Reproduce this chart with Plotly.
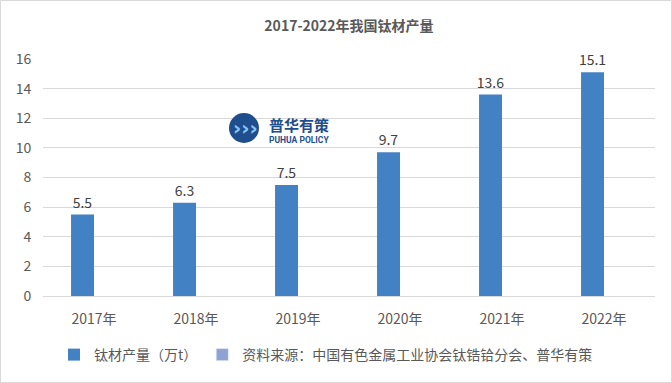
import plotly.graph_objects as go

categories = ["2017年", "2018年", "2019年", "2020年", "2021年", "2022年"]
output_values = [5.5, 6.3, 7.5, 9.7, 13.6, 15.1]
source_values = [None, None, None, None, None, None]
y_ticks = [0, 2, 4, 6, 8, 10, 12, 14, 16]

FONT = "Noto Sans CJK SC, Microsoft YaHei, sans-serif"

W, H = 672, 383
L, R, T, B = 43, 17, 59, 87
pw, ph = W - L - R, H - T - B

def px_x(x):
    return (x - L) / pw

def px_y(y):
    return (H - B - y) / ph

fig = go.Figure()
fig.add_trace(go.Bar(
    x=categories, y=output_values, name="钛材产量（万t）",
    marker=dict(color="#4282C4", line=dict(width=0)),
    text=[f"{v:.1f}" for v in output_values], textposition="outside",
    textfont=dict(size=14, color="#404040", family=FONT),
    cliponaxis=False, constraintext="none",
))
fig.add_trace(go.Bar(
    x=categories, y=source_values, name="资料来源：中国有色金属工业协会钛锆铪分会、普华有策",
    marker=dict(color="#8FA3D3"),
))

shapes = [
    dict(type="rect", xref="paper", yref="paper",
         x0=px_x(0.5), x1=px_x(671.5), y0=px_y(382.5), y1=px_y(0.5),
         line=dict(color="#D9D9D9", width=1), fillcolor="rgba(0,0,0,0)", layer="below"),
    dict(type="circle", xref="paper", yref="paper",
         x0=px_x(229), x1=px_x(259), y0=px_y(143), y1=px_y(113),
         line=dict(width=0), fillcolor="#1F4E8C"),
]
annotations = [
    dict(xref="paper", yref="paper", x=px_x(245), y=px_y(128), text="<b>›››</b>",
         showarrow=False, font=dict(size=20, color="#8CC4F2", family="DejaVu Sans"),
         xanchor="center", yanchor="middle"),
    dict(xref="paper", yref="paper", x=px_x(267), y=px_y(124), text="<b>普华有策</b>",
         showarrow=False, font=dict(size=15, color="#1F4E8C", family=FONT),
         xanchor="left", yanchor="middle"),
    dict(xref="paper", yref="paper", x=px_x(267), y=px_y(140), text="<b>PUHUA POLICY</b>",
         showarrow=False, font=dict(size=8.5, color="#1F4E8C", family="Roboto"),
         xanchor="left", yanchor="middle"),
]

fig.update_layout(
    width=W, height=H,
    margin=dict(l=L, r=R, t=T, b=B, autoexpand=False),
    paper_bgcolor="white", plot_bgcolor="white",
    title=dict(text="<b>2017-2022年我国钛材产量</b>", x=0.5, xref="paper", xanchor="center",
               y=1 - 26 / H, yanchor="middle",
               font=dict(size=14, color="#595959", family=FONT)),
    barmode="group", bargap=0.55, bargroupgap=0,
    font=dict(family=FONT, color="#595959"),
    xaxis=dict(showgrid=False, showline=False, ticks="outside", ticklen=10,
               tickcolor="rgba(0,0,0,0)", tickfont=dict(size=14, color="#595959")),
    yaxis=dict(range=[0, 16], tickvals=y_ticks, showgrid=True, gridcolor="#D9D9D9",
               gridwidth=1, zeroline=True, zerolinecolor="#D9D9D9", zerolinewidth=1,
               ticks="outside", ticklen=8, tickcolor="rgba(0,0,0,0)",
               tickfont=dict(size=14, color="#595959")),
    legend=dict(orientation="h", x=px_x(54), xanchor="left", y=px_y(355), yanchor="middle",
                font=dict(size=14, color="#595959", family=FONT),
                itemwidth=30, bgcolor="rgba(0,0,0,0)"),
    shapes=shapes, annotations=annotations,
)

fig.write_html("out.html", config={"displayModeBar": False},
               post_script="document.body.style.margin='0';")
